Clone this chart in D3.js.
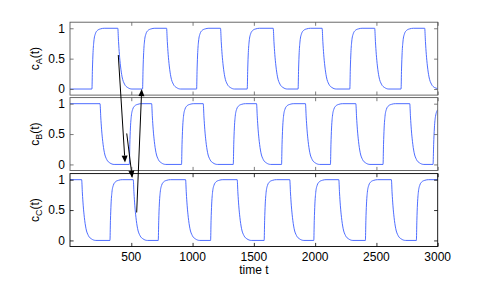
<!DOCTYPE html>
<html>
<head>
<meta charset="utf-8">
<script src="https://cdn.jsdelivr.net/npm/d3@7"></script>
<style>
  html, body { margin: 0; padding: 0; background: #fff; }
  svg { display: block; }
  text { font-family: "Liberation Sans", Arial, Helvetica, sans-serif; }
</style>
</head>
<body>
<svg id="chart" width="491" height="288"></svg>
<script>
// ---------------- data ----------------
const xTicks = [500, 1000, 1500, 2000, 2500, 3000];
const yTicks = [0, 0.5, 1];
const yTickLabels = ["0", "0.5", "1"];
const xLabel = "time t";
const panelNames = ["A", "B", "C"];

const seriesA = [
  [0,0],
  [179,0],[183,.33],[188,.6],[195,.79],[207,.91],[224,.965],[249,.99],[279,1],
  [390,1],[396,.78],[403,.57],[412,.38],[425,.2],[445,.08],[470,.025],[505,0],
  [592,0],[596,.33],[601,.6],[608,.79],[620,.91],[637,.965],[662,.99],[692,1],
  [788,1],[794,.78],[801,.57],[810,.38],[823,.2],[843,.08],[868,.025],[903,0],
  [1033,0],[1037,.33],[1042,.6],[1049,.79],[1061,.91],[1078,.965],[1103,.99],[1133,1],
  [1228,1],[1234,.78],[1241,.57],[1250,.38],[1263,.2],[1283,.08],[1308,.025],[1343,0],
  [1446,0],[1450,.33],[1455,.6],[1462,.79],[1474,.91],[1491,.965],[1516,.99],[1546,1],
  [1658,1],[1664,.78],[1671,.57],[1680,.38],[1693,.2],[1713,.08],[1738,.025],[1773,0],
  [1861,0],[1865,.33],[1870,.6],[1877,.79],[1889,.91],[1906,.965],[1931,.99],[1961,1],
  [2057,1],[2063,.78],[2070,.57],[2079,.38],[2092,.2],[2112,.08],[2137,.025],[2172,0],
  [2283,0],[2287,.33],[2292,.6],[2299,.79],[2311,.91],[2328,.965],[2353,.99],[2383,1],
  [2486,1],[2492,.78],[2499,.57],[2508,.38],[2521,.2],[2541,.08],[2566,.025],[2601,0],
  [2701,0],[2705,.33],[2710,.6],[2717,.79],[2729,.91],[2746,.965],[2771,.99],[2801,1],
  [2894,1],[2900,.78],[2907,.57],[2916,.38],[2929,.2],[2949,.08],[2974,.025],[3000,.008]
];

const seriesB = [
  [0,1],
  [245,1],[251,.78],[258,.57],[267,.38],[280,.2],[300,.08],[325,.025],[360,0],
  [484,0],[488,.33],[493,.6],[500,.79],[512,.91],[529,.965],[554,.99],[584,1],
  [666,1],[672,.78],[679,.57],[688,.38],[701,.2],[721,.08],[746,.025],[781,0],
  [910,0],[914,.33],[919,.6],[926,.79],[938,.91],[955,.965],[980,.99],[1010,1],
  [1087,1],[1093,.78],[1100,.57],[1109,.38],[1122,.2],[1142,.08],[1167,.025],[1202,0],
  [1332,0],[1336,.33],[1341,.6],[1348,.79],[1360,.91],[1377,.965],[1402,.99],[1432,1],
  [1522,1],[1528,.78],[1535,.57],[1544,.38],[1557,.2],[1577,.08],[1602,.025],[1637,0],
  [1726,0],[1730,.33],[1735,.6],[1742,.79],[1754,.91],[1771,.965],[1796,.99],[1826,1],
  [1921,1],[1927,.78],[1934,.57],[1943,.38],[1956,.2],[1976,.08],[2001,.025],[2036,0],
  [2125,0],[2129,.33],[2134,.6],[2141,.79],[2153,.91],[2170,.965],[2195,.99],[2225,1],
  [2332,1],[2338,.78],[2345,.57],[2354,.38],[2367,.2],[2387,.08],[2412,.025],[2447,0],
  [2554,0],[2558,.33],[2563,.6],[2570,.79],[2582,.91],[2599,.965],[2624,.99],[2654,1],
  [2772,1],[2778,.78],[2785,.57],[2794,.38],[2807,.2],[2827,.08],[2852,.025],[2887,0],
  [2962,0],[2967,.33],[2973,.6],[2982,.79],[3000,.9]
];

const seriesC = [
  [0,1],
  [95,1],[101,.78],[108,.57],[117,.38],[130,.2],[150,.08],[175,.025],[210,0],
  [326,0],[330,.33],[335,.6],[342,.79],[354,.91],[371,.965],[396,.99],[426,1],
  [516,1],[522,.78],[529,.57],[538,.38],[551,.2],[571,.08],[596,.025],[631,0],
  [720,0],[724,.33],[729,.6],[736,.79],[748,.91],[765,.965],[790,.99],[820,1],
  [943,1],[949,.78],[956,.57],[965,.38],[978,.2],[998,.08],[1023,.025],[1058,0],
  [1147,0],[1151,.33],[1156,.6],[1163,.79],[1175,.91],[1192,.965],[1217,.99],[1247,1],
  [1364,1],[1370,.78],[1377,.57],[1386,.38],[1399,.2],[1419,.08],[1444,.025],[1479,0],
  [1584,0],[1588,.33],[1593,.6],[1600,.79],[1612,.91],[1629,.965],[1654,.99],[1684,1],
  [1793,1],[1799,.78],[1806,.57],[1815,.38],[1828,.2],[1848,.08],[1873,.025],[1908,0],
  [1989,0],[1993,.33],[1998,.6],[2005,.79],[2017,.91],[2034,.965],[2059,.99],[2089,1],
  [2193,1],[2199,.78],[2206,.57],[2215,.38],[2228,.2],[2248,.08],[2273,.025],[2308,0],
  [2410,0],[2414,.33],[2419,.6],[2426,.79],[2438,.91],[2455,.965],[2480,.99],[2510,1],
  [2622,1],[2628,.78],[2635,.57],[2644,.38],[2657,.2],[2677,.08],[2702,.025],[2737,0],
  [2826,0],[2830,.33],[2835,.6],[2842,.79],[2854,.91],[2871,.965],[2896,.99],[2926,1],
  [3000,1]
];

// annotation arrows: [fromPanel, t, c, toPanel, t, c]
const arrows = [
  [0, 394, 0.56, 1, 449, 0.03],
  [1, 463, 0.51, 2, 508, 1.03],
  [2, 544, 0.46, 0, 585, 0.0]
];

// ---------------- layout ----------------
const svg = d3.select("#chart");
const left = 70, right = 437.7;
const panelTops = [22.2, 97.6, 173.6];
const panelH = 72.9;
const boxColors = ["#5a5a5a", "#5a5a5a", "#000"];
const tickLen = 3.6;
const allSeries = [seriesA, seriesB, seriesC];

const x = d3.scaleLinear().domain([0, 3000]).range([left, right]);
const yScales = panelTops.map(top =>
  d3.scaleLinear().domain([-0.1, 1.1]).range([top + panelH, top]));

const defs = svg.append("defs");

panelTops.forEach((top, i) => {
  const y = yScales[i];
  const g = svg.append("g");
  const col = boxColors[i];

  defs.append("clipPath").attr("id", "clip" + i)
    .append("rect").attr("x", left).attr("y", top)
    .attr("width", right - left).attr("height", panelH);

  // line
  const line = d3.line().x(d => x(d[0])).y(d => y(d[1])).curve(d3.curveMonotoneX);
  g.append("path")
    .datum(allSeries[i])
    .attr("clip-path", "url(#clip" + i + ")")
    .attr("fill", "none")
    .attr("stroke", "#3a5cff")
    .attr("stroke-width", 0.9)
    .attr("d", line);

  // axes (inward ticks) on all four sides
  const axB = d3.axisTop(x).tickValues(xTicks).tickSize(tickLen).tickFormat("");
  const axT = d3.axisBottom(x).tickValues(xTicks).tickSize(tickLen).tickFormat("");
  const axL = d3.axisRight(y).tickValues(yTicks).tickSize(tickLen).tickFormat("");
  const axR = d3.axisLeft(y).tickValues(yTicks).tickSize(tickLen).tickFormat("");
  const styleAx = sel => {
    sel.select(".domain").remove();
    sel.selectAll("line").attr("stroke", col).attr("stroke-width", 0.8);
  };
  g.append("g").attr("transform", `translate(0,${top + panelH})`).call(axB).call(styleAx);
  g.append("g").attr("transform", `translate(0,${top})`).call(axT).call(styleAx);
  g.append("g").attr("transform", `translate(${left},0)`).call(axL).call(styleAx);
  g.append("g").attr("transform", `translate(${right},0)`).call(axR).call(styleAx);

  // box
  g.append("rect")
    .attr("x", left).attr("y", top)
    .attr("width", right - left).attr("height", panelH)
    .attr("fill", "none").attr("stroke", col).attr("stroke-width", 0.9);

  // y tick labels
  g.selectAll(".ytl").data(yTicks).enter().append("text")
    .attr("x", left - 5).attr("y", d => y(d)).attr("dy", "0.36em")
    .attr("text-anchor", "end").attr("font-size", 12).attr("fill", "#000")
    .text((d, k) => yTickLabels[k]);

  // y label c_X(t)
  const lab = g.append("text")
    .attr("transform", `translate(39,${top + panelH / 2}) rotate(-90)`)
    .attr("text-anchor", "middle").attr("font-size", 12).attr("fill", "#000");
  lab.append("tspan").text("c");
  lab.append("tspan").attr("font-size", 9).attr("dy", 3).text(panelNames[i]);
  lab.append("tspan").attr("dy", -3).text("(t)");
});

// x tick labels on bottom panel
const bottomY = panelTops[2] + panelH;
svg.selectAll(".xtl").data(xTicks).enter().append("text")
  .attr("x", d => x(d)).attr("y", bottomY + 14)
  .attr("text-anchor", "middle").attr("font-size", 12).attr("fill", "#000")
  .text(d => d);

svg.append("text")
  .attr("x", (left + right) / 2).attr("y", bottomY + 27.8)
  .attr("text-anchor", "middle").attr("font-size", 12).attr("fill", "#000")
  .text(xLabel);

// arrows
arrows.forEach(a => {
  const x1 = x(a[1]), y1 = yScales[a[0]](a[2]);
  const x2 = x(a[4]), y2 = yScales[a[3]](a[5]);
  const ang = Math.atan2(y2 - y1, x2 - x1);
  const hl = 7, hw = 3;
  const bx = x2 - hl * Math.cos(ang), by = y2 - hl * Math.sin(ang);
  svg.append("line")
    .attr("x1", x1).attr("y1", y1).attr("x2", bx).attr("y2", by)
    .attr("stroke", "#000").attr("stroke-width", 1);
  const px = -Math.sin(ang), py = Math.cos(ang);
  svg.append("path")
    .attr("d", `M${x2},${y2}L${bx + hw * px},${by + hw * py}L${bx - hw * px},${by - hw * py}Z`)
    .attr("fill", "#000");
});
</script>
</body>
</html>
